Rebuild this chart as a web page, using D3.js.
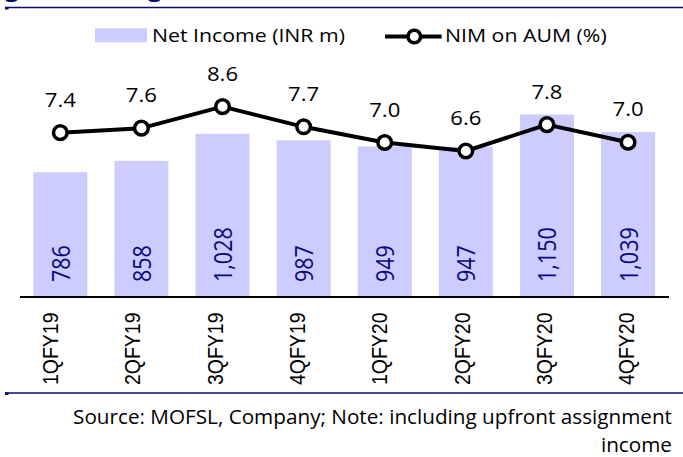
<!DOCTYPE html>
<html>
<head>
<meta charset="utf-8">
<script src="https://cdn.jsdelivr.net/npm/d3@7"></script>
<style>
  html, body { margin: 0; padding: 0; background: #ffffff; }
  svg { display: block; }
</style>
</head>
<body>
<script>
// ---- data ----
const categories = ["1QFY19", "2QFY19", "3QFY19", "4QFY19", "1QFY20", "2QFY20", "3QFY20", "4QFY20"];
const netIncome = [786, 858, 1028, 987, 949, 947, 1150, 1039];
const nimOnAum = [7.44, 7.64, 8.60, 7.70, 7.00, 6.62, 7.80, 7.01];
const seriesNames = ["Net Income (INR m)", "NIM on AUM (%)"];
const sourceLines = ["Source: MOFSL, Company; Note: including upfront assignment", "income"];

// ---- layout ----
const W = 683, H = 457;
const NAVY = "#0b0b6e";
const BAR = "#ccccff";
const TXT = "#000000";
const CALI = "'Open Sans', 'Noto Sans', sans-serif";
const ARIAL = "'Liberation Sans', Arial, sans-serif";

const svg = d3.select("body").append("svg").attr("width", W).attr("height", H);

const x = d3.scaleBand().domain(categories).range([19.75, 668.6]).paddingInner(0.334).paddingOuter(0.167);
const yBar = d3.scaleLinear().domain([0, 1400]).range([297, 74.8]);
const yNim = d3.scaleLinear().domain([0, 10]).range([299.3, 75.3]);

// top title fragments + rules
svg.append("g").selectAll("text").data([5, 148]).join("text")
  .attr("transform", d => `translate(${d},-3) scale(1.2,1)`)
  .attr("font-family", CALI).attr("font-weight", "bold").attr("font-size", 20)
  .attr("fill", NAVY).text("g");
svg.append("line").attr("x1", 5).attr("x2", W).attr("y1", 7.5).attr("y2", 7.5)
  .attr("stroke", NAVY).attr("stroke-width", 1.6);
svg.append("rect").attr("x", 5).attr("y", 7).attr("width", 3.5).attr("height", 2.5).attr("fill", NAVY);
svg.append("line").attr("x1", 5).attr("x2", W).attr("y1", 393).attr("y2", 393)
  .attr("stroke", NAVY).attr("stroke-width", 1.6);
svg.append("rect").attr("x", 5).attr("y", 392.5).attr("width", 3.5).attr("height", 2.5).attr("fill", NAVY);

// bars
svg.append("g").selectAll("rect").data(netIncome).join("rect")
  .attr("x", (d, i) => x(categories[i]))
  .attr("width", x.bandwidth())
  .attr("y", d => yBar(d))
  .attr("height", d => yBar(0) - yBar(d))
  .attr("fill", BAR);

// bar value labels (rotated)
const fmt = d3.format(",");
svg.append("g").selectAll("text").data(netIncome).join("text")
  .attr("transform", (d, i) => `translate(${x(categories[i]) + x.bandwidth() / 2 + 9.5},${yBar(0) - 15}) scale(1.15,1) rotate(-90)`)
  .attr("font-family", CALI).attr("font-size", 21.5).attr("fill", "#0a0a80")
  .attr("text-anchor", "start")
  .text(d => fmt(d));

// x axis line
const xAxis = d3.axisBottom(x).tickSize(0).tickPadding(0).tickFormat("");
const gAxis = svg.append("g").attr("transform", `translate(0,${yBar(0)})`).call(xAxis);
gAxis.select(".domain").attr("stroke", "#000").attr("stroke-width", 2).attr("d", `M20,0H669`);

// category labels
svg.append("g").selectAll("text").data(categories).join("text")
  .attr("transform", (d, i) => `translate(${x(d) + x.bandwidth() / 2 + 2 + (i - 3.5) * 1.2},312.5) scale(1.14,1) rotate(-90)`)
  .attr("font-family", ARIAL).attr("font-size", 19.5).attr("fill", TXT)
  .attr("text-anchor", "end")
  .text(d => d);

// NIM line
const cx = (d, i) => x(categories[i]) + x.bandwidth() / 2;
const line = d3.line().x(cx).y(d => yNim(d));
svg.append("path").datum(nimOnAum).attr("d", line)
  .attr("fill", "none").attr("stroke", "#000").attr("stroke-width", 4).attr("stroke-linejoin", "round");
svg.append("g").selectAll("circle").data(nimOnAum).join("circle")
  .attr("cx", cx).attr("cy", d => yNim(d)).attr("r", 6.8)
  .attr("fill", "#fff").attr("stroke", "#000").attr("stroke-width", 3.5);
svg.append("g").selectAll("text").data(nimOnAum).join("text")
  .attr("transform", (d, i) => `translate(${cx(d, i)},${yNim(d) - 26}) scale(1.08,1)`)
  .attr("font-family", CALI).attr("font-size", 20.5).attr("fill", TXT)
  .attr("text-anchor", "middle")
  .text(d => d.toFixed(1));

// legend
const lg = svg.append("g");
lg.append("rect").attr("x", 95).attr("y", 28.3).attr("width", 52).attr("height", 14).attr("fill", BAR);
lg.append("text").attr("transform", `translate(152,42.3) scale(1.12,1)`)
  .attr("font-family", CALI).attr("font-size", 19).attr("fill", TXT).text(seriesNames[0]);
lg.append("line").attr("x1", 385).attr("x2", 441.7).attr("y1", 36.5).attr("y2", 36.5)
  .attr("stroke", "#000").attr("stroke-width", 4);
lg.append("circle").attr("cx", 414.3).attr("cy", 36.5).attr("r", 6.3)
  .attr("fill", "#fff").attr("stroke", "#000").attr("stroke-width", 3.5);
lg.append("text").attr("transform", `translate(445,42.3) scale(1.12,1)`)
  .attr("font-family", CALI).attr("font-size", 19).attr("fill", TXT).text(seriesNames[1]);

// source note
svg.append("g").selectAll("text").data(sourceLines).join("text")
  .attr("transform", (d, i) => `translate(672,${424 + i * 28}) scale(1.01,1)`)
  .attr("font-family", CALI).attr("font-size", 20.5).attr("fill", TXT)
  .attr("text-anchor", "end")
  .text(d => d);
</script>
</body>
</html>
